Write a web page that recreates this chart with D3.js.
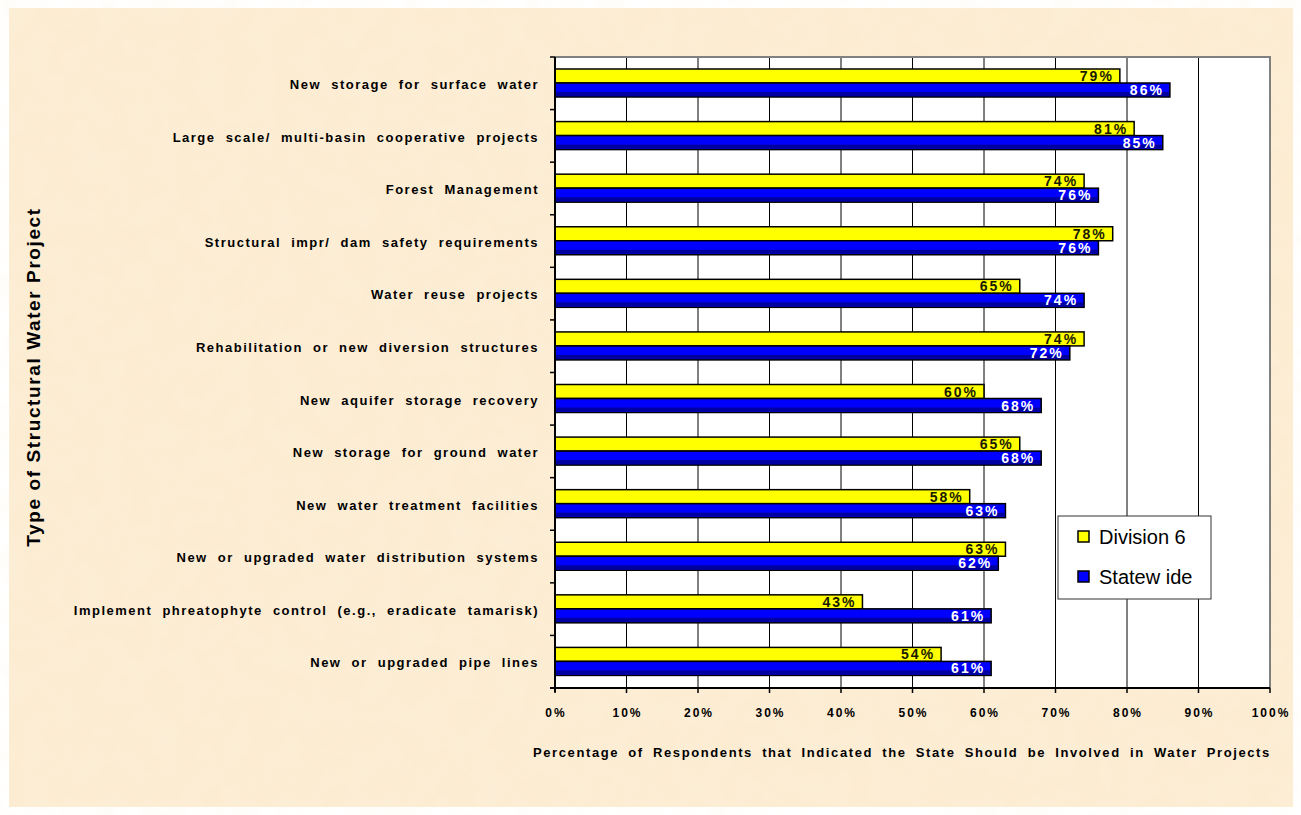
<!DOCTYPE html>
<html>
<head>
<meta charset="utf-8">
<script src="https://cdn.jsdelivr.net/npm/d3@7"></script>
<style>
  body { margin: 0; background: #fff; }
  svg { display: block; font-family: Arial, "Liberation Sans", sans-serif; }
</style>
</head>
<body>
<svg id="chart" width="1301" height="815"></svg>
<script>
const categories = [
  'New storage for surface water',
  'Large scale/ multi-basin cooperative projects',
  'Forest Management',
  'Structural impr/ dam safety requirements',
  'Water reuse projects',
  'Rehabilitation or new diversion structures',
  'New aquifer storage recovery',
  'New storage for ground water',
  'New water treatment facilities',
  'New or upgraded water distribution systems',
  'Implement phreatophyte control (e.g., eradicate tamarisk)',
  'New or upgraded pipe lines'
]
const division6 = [79, 81, 74, 78, 65, 74, 60, 65, 58, 63, 43, 54]
const statewide = [86, 85, 76, 76, 74, 72, 68, 68, 63, 62, 61, 61]
const seriesNames = ['Division 6', 'Statewide']
const seriesColors = ['#ffff00', '#0000ff']
const xTicks = [0, 10, 20, 30, 40, 50, 60, 70, 80, 90, 100]

const pLeft = 555, pRight = 1270, pTop = 57, pBottom = 688

const svg = d3.select('#chart')

// parchment background
const defs = svg.append('defs')
const filt = defs.append('filter').attr('id', 'paper')
filt.append('feTurbulence').attr('type', 'fractalNoise').attr('baseFrequency', 0.04).attr('numOctaves', 3).attr('seed', 4)
filt.append('feColorMatrix').attr('type', 'matrix')
  .attr('values', '0 0 0 0 0.98  0 0 0 0 0.91  0 0 0 0 0.78  0 0 0 -0.9 0.6')
svg.append('rect').attr('x', 9).attr('y', 8).attr('width', 1284).attr('height', 799).attr('fill', '#fcecd2')
svg.append('rect').attr('x', 9).attr('y', 8).attr('width', 1284).attr('height', 799).attr('filter', 'url(#paper)').attr('opacity', 0.5)

const x = d3.scaleLinear().domain([0, 100]).range([pLeft, pRight])
const y = d3.scaleBand().domain(categories).range([pTop, pBottom])
const inner = d3.scaleBand().domain(seriesNames).range([12, 40])

// plot area
svg.append('rect').attr('x', pLeft).attr('y', pTop).attr('width', pRight - pLeft).attr('height', pBottom - pTop).attr('fill', '#fff')

// gridlines
svg.append('g').selectAll('line').data(xTicks.slice(1, -1)).join('line')
  .attr('x1', d => x(d)).attr('x2', d => x(d))
  .attr('y1', pTop).attr('y2', pBottom)
  .attr('stroke', '#000').attr('stroke-width', 1)

// border top/right
svg.append('path')
  .attr('d', `M${pLeft},${pTop}H${pRight}V${pBottom}`)
  .attr('fill', 'none').attr('stroke', '#808080').attr('stroke-width', 2)

const rows = categories.map((c, i) => ({ cat: c, vals: [division6[i], statewide[i]] }))

const g = svg.append('g').selectAll('g').data(rows).join('g')
  .attr('transform', d => `translate(0,${y(d.cat)})`)

g.selectAll('rect').data(d => d.vals.map((v, j) => ({ v, s: seriesNames[j], j }))).join('rect')
  .attr('x', pLeft)
  .attr('y', d => inner(d.s))
  .attr('width', d => x(d.v) - pLeft)
  .attr('height', inner.bandwidth())
  .attr('fill', d => seriesColors[d.j])
  .attr('stroke', '#000').attr('stroke-width', 1.5)

// darker shading at the bottom of blue bars
g.append('rect')
  .attr('x', pLeft + 1).attr('y', inner('Statewide') + inner.bandwidth() - 5)
  .attr('width', d => x(d.vals[1]) - pLeft - 2).attr('height', 4)
  .attr('fill', '#0000a0')

g.selectAll('text.val').data(d => d.vals.map((v, j) => ({ v, s: seriesNames[j], j }))).join('text')
  .attr('class', 'val')
  .attr('x', d => x(d.v) - 6)
  .attr('y', d => inner(d.s) + inner.bandwidth() - 2)
  .attr('text-anchor', 'end')
  .attr('font-size', 14).attr('font-weight', 'bold').attr('letter-spacing', 2)
  .attr('fill', d => d.j === 0 ? '#1a1a00' : '#fff')
  .text(d => d.v + '%')

// left axis
const yAxis = svg.append('g').attr('transform', `translate(${pLeft},0)`)
yAxis.append('line').attr('x1', 0).attr('x2', 0).attr('y1', pTop).attr('y2', pBottom + 4)
  .attr('stroke', '#000').attr('stroke-width', 2)
yAxis.selectAll('line.tk').data(categories.map(c => y(c)).concat([pBottom])).join('line')
  .attr('class', 'tk').attr('x1', -5).attr('x2', 0).attr('y1', d => d).attr('y2', d => d)
  .attr('stroke', '#000').attr('stroke-width', 1.5)
yAxis.selectAll('text').data(categories).join('text')
  .attr('x', -16).attr('y', d => y(d) + 32)
  .attr('text-anchor', 'end')
  .attr('font-size', 13).attr('font-weight', 'bold')
  .attr('letter-spacing', 1.5).attr('word-spacing', 5)
  .attr('fill', '#000')
  .text(d => d)

// bottom axis
const xAxis = svg.append('g').attr('transform', `translate(0,${pBottom})`)
xAxis.append('line').attr('x1', pLeft - 5).attr('x2', pRight).attr('y1', 0).attr('y2', 0)
  .attr('stroke', '#000').attr('stroke-width', 2)
xAxis.selectAll('line.tk').data(xTicks).join('line')
  .attr('class', 'tk').attr('x1', d => x(d)).attr('x2', d => x(d)).attr('y1', 0).attr('y2', 5)
  .attr('stroke', '#000').attr('stroke-width', 1.5)
xAxis.selectAll('text').data(xTicks).join('text')
  .attr('x', d => x(d) + 1).attr('y', 29)
  .attr('text-anchor', 'middle')
  .attr('font-size', 12).attr('font-weight', 'bold').attr('letter-spacing', 2)
  .text(d => d + '%')

svg.append('text')
  .attr('x', 533).attr('y', 757)
  .attr('font-size', 13).attr('font-weight', 'bold')
  .attr('letter-spacing', 1.6).attr('word-spacing', 4)
  .text('Percentage of Respondents that Indicated the State Should be Involved in Water Projects')

svg.append('text')
  .attr('transform', 'translate(40,377) rotate(-90)')
  .attr('text-anchor', 'middle')
  .attr('font-size', 19).attr('font-weight', 'bold').attr('letter-spacing', 1.6)
  .text('Type of Structural Water Project')

// legend
const lg = svg.append('g').attr('transform', 'translate(1058,516)')
lg.append('rect').attr('width', 153).attr('height', 83).attr('fill', '#fff').attr('stroke', '#333').attr('stroke-width', 1)
lg.selectAll('rect.sw').data(seriesNames).join('rect')
  .attr('class', 'sw').attr('x', 20).attr('y', (d, i) => 15 + i * 40).attr('width', 11).attr('height', 11)
  .attr('fill', (d, i) => seriesColors[i]).attr('stroke', '#000').attr('stroke-width', 1.5)
lg.selectAll('text').data(seriesNames).join('text')
  .attr('x', 41).attr('y', (d, i) => 28 + i * 40)
  .attr('font-size', 20).attr('fill', '#000')
  .text(d => d === 'Statewide' ? 'Statew ide' : d)
</script>
</body>
</html>
